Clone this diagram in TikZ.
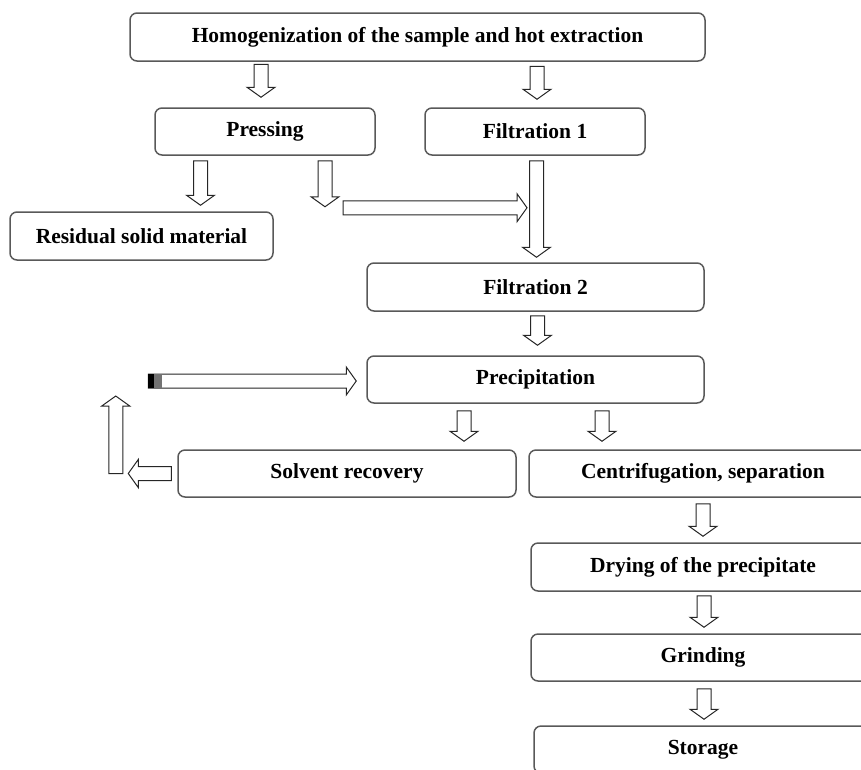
\documentclass[tikz,border=0pt]{standalone}
\usepackage{fontspec}
\setmainfont{Liberation Serif}
\usetikzlibrary{calc}

\tikzset{
  stage/.style={draw=black!65, line width=1.5pt, rounded corners=7pt, fill=white,
    inner sep=0pt, font=\fontsize{21.5}{24}\selectfont\bfseries},
  % hollow block arrow between two points
  fat/.style={draw=black!85, line width=1pt, fill=white, to path={
      ($(\tikztostart)!7pt!90:(\tikztotarget)$)
      -- ($(\tikztotarget)!10pt!(\tikztostart)!7pt!90:(\tikztotarget)$)
      -- ($(\tikztotarget)!10pt!(\tikztostart)!14pt!90:(\tikztotarget)$)
      -- (\tikztotarget)
      -- ($(\tikztotarget)!10pt!(\tikztostart)!14pt!-90:(\tikztotarget)$)
      -- ($(\tikztotarget)!10pt!(\tikztostart)!7pt!-90:(\tikztotarget)$)
      -- ($(\tikztostart)!7pt!-90:(\tikztotarget)$) -- cycle}}
}

\begin{document}
\begin{tikzpicture}[x=1pt,y=-1pt]
  \useasboundingbox (0,0) rectangle (861,769);
  \clip (0,0) rectangle (861,769);

  \node[stage, minimum width=575pt, minimum height=48pt] (homog) at (417.5,37) {Homogenization of the sample and hot extraction};
  \node[stage, minimum width=220pt, minimum height=47pt] (press) at (265,131.5) {Pressing};
  \node[stage, minimum width=220pt, minimum height=47pt] (filt1) at (535,131.5) {Filtration 1};
  \node[stage, minimum width=263pt, minimum height=48pt] (resid) at (141.5,236) {Residual solid material};
  \node[stage, minimum width=337pt, minimum height=48pt] (filt2) at (535.5,287) {Filtration 2};
  \node[stage, minimum width=337pt, minimum height=47pt] (precip) at (535.5,379.5) {Precipitation};
  \node[stage, minimum width=338pt, minimum height=47pt] (solv) at (347,473.5) {Solvent recovery};
  \node[stage, minimum width=348pt, minimum height=47pt] (centr) at (703,473.5) {Centrifugation, separation};
  \node[stage, minimum width=344pt, minimum height=48pt] (dry) at (703,567) {Drying of the precipitate};
  \node[stage, minimum width=344pt, minimum height=47pt] (grind) at (703,657.5) {Grinding};
  \node[stage, minimum width=338pt, minimum height=47pt] (store) at (703,749.5) {Storage};

  \draw[fat] ([xshift=-4pt,yshift=43pt]press.north) to ([xshift=-4pt,yshift=10pt]press.north);
  \draw[fat] ([xshift=2pt,yshift=41pt]filt1.north) to ([xshift=2pt,yshift=8pt]filt1.north);
  \draw[fat] ([xshift=-64.5pt,yshift=-5pt]press.south) to ([xshift=59pt,yshift=6pt]resid.north);
  \draw[fat] ([xshift=60pt,yshift=-5pt]press.south) to ([xshift=60pt,yshift=-51pt]press.south);
  \draw[fat] ([xshift=1.5pt,yshift=-5pt]filt1.south) to ([xshift=1pt,yshift=5pt]filt2.north);
  \draw[fat] ([xshift=-192.5pt,yshift=54.5pt]filt2.north) to ([xshift=-8.5pt,yshift=54.5pt]filt2.north);
  \draw[fat] ([xshift=2pt,yshift=-4pt]filt2.south) to ([xshift=2pt,yshift=10pt]precip.north);
  \draw[fat] ([xshift=-71.5pt,yshift=-7pt]precip.south) to ([xshift=117pt,yshift=8pt]solv.north);
  \draw[fat] ([xshift=66.5pt,yshift=-7pt]precip.south) to ([xshift=-101pt,yshift=8pt]centr.north);
  \draw[fat] ([yshift=-6pt]centr.south) to ([yshift=6pt]dry.north);
  \draw[fat] ([xshift=1pt,yshift=-4pt]dry.south) to ([xshift=1pt,yshift=6pt]grind.north);
  \draw[fat] ([xshift=1pt,yshift=-7pt]grind.south) to ([xshift=1pt,yshift=6pt]store.north);

  % solvent loop back to precipitation
  \draw[fat] ([xshift=-6pt]solv.west) to ([xshift=-49pt]solv.west);
  \draw[fat] ([xshift=-61.5pt]solv.west) to ([xshift=-61.5pt,yshift=77.5pt]solv.west);
  \coordinate (rin) at ([xshift=-218pt,yshift=-1.5pt]precip.west);
  \draw[fat] (rin) to ([xshift=-10pt,yshift=-1.5pt]precip.west);
  \fill[black!55] ([yshift=7pt]rin) rectangle ([xshift=14pt,yshift=-7pt]rin);
  \fill[black] ([yshift=7pt]rin) rectangle ([xshift=6pt,yshift=-7pt]rin);
\end{tikzpicture}
\end{document}
